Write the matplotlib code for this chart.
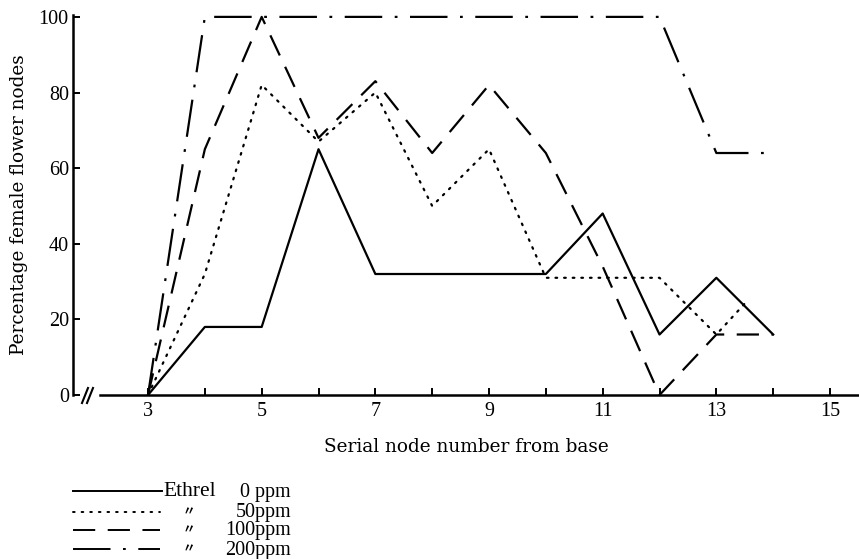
"""Percentage of female flower nodes along the stem for four Ethrel concentrations."""

import matplotlib
matplotlib.use("Agg")
import matplotlib.pyplot as plt
from matplotlib.lines import Line2D

plt.rcParams["font.family"] = ["Liberation Serif", "Noto Sans CJK JP", "DejaVu Serif"]
plt.rcParams["lines.scale_dashes"] = False

# serial node number along the stem
nodes = [3, 4, 5, 6, 7, 8, 9, 10, 11, 12, 13, 14]
ethrel_0 = [0, 18, 18, 65, 32, 32, 32, 32, 48, 16, 31, 16]
ethrel_50_nodes = [3, 4, 5, 6, 7, 8, 9, 10, 11, 12, 13, 13.55]
ethrel_50 = [0, 32, 82, 67, 80, 50, 65, 31, 31, 31, 16, 25]
ethrel_100 = [0, 65, 100, 68, 83, 64, 82, 64, 34, 0, 16, 16]
ethrel_200 = [0, 100, 100, 100, 100, 100, 100, 100, 100, 100, 64, 64]

x_ticks = list(range(3, 16))
x_tick_labels = [str(n) if n % 2 else "" for n in x_ticks]
y_ticks = [0, 20, 40, 60, 80, 100]
legend_doses = ["0 ppm", "50ppm", "100ppm", "200ppm"]

W, H = 859, 559
fig = plt.figure(figsize=(W / 100, H / 100), dpi=100)
ax = fig.add_axes([73 / W, 1 - 395 / H, (W - 73) / W, (395 - 15) / H])

styles = [
    dict(linestyle="-"),
    dict(linestyle=(0, (1.2, 5.0)), dash_capstyle="round"),
    dict(linestyle=(0, (16, 9))),
    dict(linestyle=(0, (27, 9, 2, 9))),
]
series = [
    (nodes, ethrel_0),
    (ethrel_50_nodes, ethrel_50),
    (nodes, ethrel_100),
    (nodes, ethrel_200),
]
for (xs, ys), st in zip(series, styles):
    ax.plot(xs, ys, color="black", linewidth=1.6, **st)

ax.set_xlim(1.68, 15.51)
ax.set_ylim(0, 100.5)
ax.spines["top"].set_visible(False)
ax.spines["right"].set_visible(False)
for side in ("left", "bottom"):
    ax.spines[side].set_linewidth(1.8)
ax.spines["bottom"].set_bounds(2.16, 15.51)

ax.set_xticks(x_ticks, labels=x_tick_labels)
ax.set_yticks(y_ticks, labels=[str(v) for v in y_ticks])
ax.tick_params(direction="in", length=5, width=1.4, labelsize=14.5, pad=5)
ax.tick_params(axis="y", pad=3)

label_font = dict(family="DejaVu Serif", fontsize=13.3)
ax.set_xlabel("Serial node number from base", labelpad=12, **label_font)
ax.set_ylabel("Percentage female flower nodes", labelpad=8, **label_font)

# axis break marks "//"
for dx in (0, 5):
    fig.add_artist(Line2D([(82 + dx) / W, (88 + dx) / W], [1 - 403 / H, 1 - 388 / H],
                          color="black", linewidth=1.5))

# hand-drawn style legend under the plot
rows_y = [491, 512, 530, 549]
for st, y_px, dose, i in zip(styles, rows_y, legend_doses, range(4)):
    x_end = 162 if i == 0 else 160
    fig.add_artist(Line2D([73 / W, x_end / W], [1 - y_px / H] * 2,
                          color="black", linewidth=1.4, **st))
    if i == 0:
        fig.text(163 / W, 1 - y_px / H, "Ethrel", fontsize=15.5, va="center", ha="left")
    else:
        fig.text(189 / W, 1 - y_px / H, "〃", fontsize=9, va="center", ha="center",
                 style="italic", fontweight="bold")
    fig.text(291 / W, 1 - (y_px + 1) / H, dose, fontsize=14.5, va="center", ha="right")

fig.savefig("out.png", dpi=100)
